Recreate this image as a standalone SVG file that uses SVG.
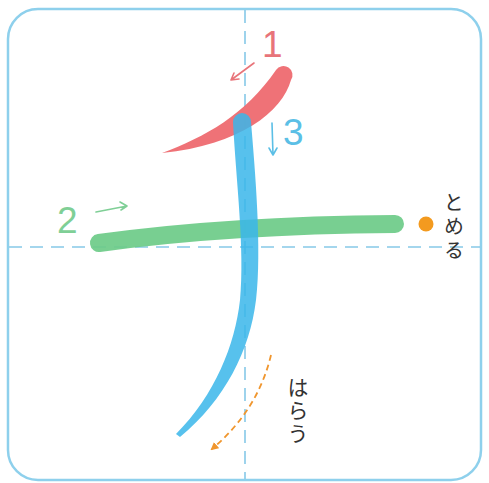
<svg xmlns="http://www.w3.org/2000/svg" width="489" height="483" viewBox="0 0 489 483">
<defs>
<style>
.guide{stroke:#86c9e8;stroke-width:1.6;stroke-dasharray:13 8;fill:none}
.num{font-family:"Liberation Sans","Noto Sans",sans-serif;font-size:37px}
.jp{font-family:"Noto Sans CJK JP",sans-serif;fill:#333;writing-mode:vertical-rl;text-orientation:upright}
.arr{fill:none;stroke-width:1.6;stroke-linecap:round;stroke-linejoin:round}
</style>
<marker id="oa" markerWidth="8" markerHeight="8" refX="6" refY="4" orient="auto" markerUnits="userSpaceOnUse">
<path d="M0,0 L8,4 L0,8 Z" fill="#f0962e"/>
</marker>
</defs>
<rect width="489" height="483" fill="#fff"/>
<rect x="8" y="9" width="473" height="471" rx="30" ry="30" fill="#fff" stroke="#8ed0ec" stroke-width="2.5"/>
<line class="guide" x1="245" y1="10" x2="245" y2="479"/>
<line class="guide" x1="9" y1="247" x2="480" y2="247"/>

<g id="stroke1">
<path d="M162,153 C205,137 245,115 276,70 A9 9 0 0 1 291,80 C282,112 240,145 162,153 Z" fill="#ee6a70" opacity="0.95"/>
<text class="num" x="262" y="57" fill="#e8747a">1</text>
<path class="arr" stroke="#e8747a" d="M254,63 L231,80 M231,80 L239,79 M231,80 L234,73"/>
</g>

<g id="stroke2">
<path d="M99,243 Q230,225 395,224" fill="none" stroke="#6ccb88" stroke-width="18" stroke-linecap="round" opacity="0.92"/>
<text class="num" x="57" y="233" fill="#7fcf96">2</text>
<path class="arr" stroke="#7fcf96" d="M96,212 L127,206 M127,206 L120,202 M127,206 L121,210"/>
</g>

<g id="stroke3">
<path d="M233,122 A9 9 0 0 1 251,122 C255,170 262,250 256,300 C250,350 225,400 180,437 L176,434 C215,395 235,345 240,300 C245,250 236,180 233,122 Z" fill="#3ab6ea" opacity="0.85"/>
<text class="num" x="283" y="145" fill="#5bbfe6">3</text>
<path class="arr" stroke="#5bbfe6" d="M272,123 L273,155 M273,155 L269,148 M273,155 L277,148"/>
</g>

<g id="tome">
<circle cx="426" cy="224" r="7.5" fill="#f39a1f"/>
<text class="jp" x="454" y="192" font-size="20" letter-spacing="4">とめる</text>
</g>

<g id="harau">
<path d="M271,355 Q258,410 212,449" fill="none" stroke="#f0962e" stroke-width="1.8" stroke-dasharray="6 4" marker-end="url(#oa)"/>
<text class="jp" x="298" y="377" font-size="21" letter-spacing="2">はらう</text>
</g>
</svg>
